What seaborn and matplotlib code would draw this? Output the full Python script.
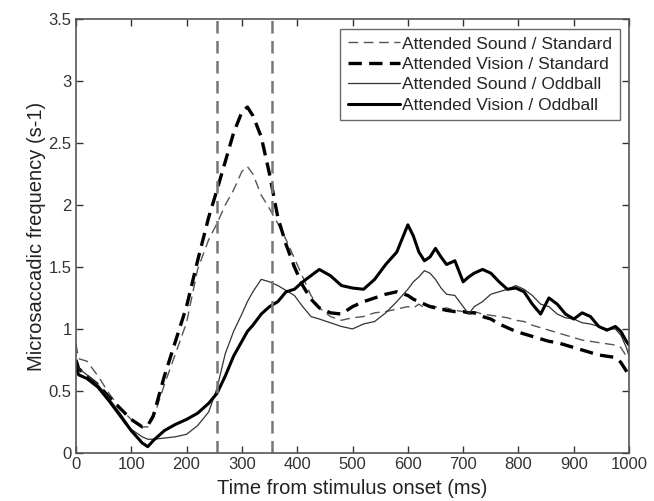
import numpy as np
import pandas as pd
import seaborn as sns
import matplotlib
matplotlib.use("Agg")
import matplotlib.pyplot as plt

# time from stimulus onset (ms)
time_ms = [0, 5, 20, 40, 60, 80, 100, 120, 130, 140,
           160, 180, 200, 220, 240, 255, 270, 285, 300, 310,
           320, 335, 350, 365, 380, 395, 410, 425, 440, 460,
           480, 500, 520, 540, 560, 580, 600, 610, 620, 630,
           640, 650, 660, 670, 685, 700, 710, 720, 735, 750,
           765, 780, 795, 810, 825, 840, 855, 870, 885, 900,
           915, 930, 945, 960, 975, 985, 995, 1000]

sound_standard = [0.88, 0.76, 0.74, 0.62, 0.48, 0.36, 0.27, 0.21, 0.21, 0.28,
                  0.55, 0.80, 1.05, 1.48, 1.72, 1.85, 2.00, 2.12, 2.27, 2.31,
                  2.25, 2.08, 1.97, 1.85, 1.72, 1.57, 1.42, 1.27, 1.17, 1.10,
                  1.07, 1.09, 1.10, 1.13, 1.14, 1.16, 1.18, 1.17, 1.20, 1.17,
                  1.19, 1.18, 1.16, 1.17, 1.15, 1.14, 1.13, 1.14, 1.12, 1.11,
                  1.10, 1.09, 1.07, 1.06, 1.03, 1.01, 0.99, 0.97, 0.95, 0.93,
                  0.91, 0.90, 0.89, 0.88, 0.87, 0.85, 0.78, 0.74]

vision_standard = [0.75, 0.68, 0.62, 0.55, 0.45, 0.36, 0.27, 0.21, 0.22, 0.30,
                   0.62, 0.90, 1.18, 1.55, 1.90, 2.12, 2.35, 2.58, 2.75, 2.79,
                   2.72, 2.55, 2.25, 1.90, 1.68, 1.50, 1.35, 1.24, 1.17, 1.13,
                   1.12, 1.18, 1.22, 1.25, 1.28, 1.30, 1.27, 1.24, 1.22, 1.20,
                   1.18, 1.17, 1.16, 1.15, 1.14, 1.14, 1.13, 1.13, 1.10, 1.08,
                   1.04, 1.01, 0.98, 0.96, 0.94, 0.92, 0.90, 0.89, 0.87, 0.85,
                   0.83, 0.81, 0.79, 0.78, 0.77, 0.73, 0.66, 0.62]

sound_oddball = [0.72, 0.68, 0.63, 0.55, 0.44, 0.32, 0.19, 0.13, 0.11, 0.11,
                 0.12, 0.13, 0.15, 0.22, 0.33, 0.52, 0.80, 0.98, 1.12, 1.22,
                 1.30, 1.40, 1.38, 1.35, 1.31, 1.27, 1.18, 1.10, 1.08, 1.05,
                 1.02, 1.00, 1.04, 1.06, 1.13, 1.22, 1.32, 1.38, 1.42, 1.47,
                 1.45, 1.40, 1.33, 1.28, 1.27, 1.18, 1.12, 1.18, 1.22, 1.28,
                 1.30, 1.32, 1.35, 1.32, 1.27, 1.20, 1.18, 1.12, 1.09, 1.08,
                 1.05, 1.04, 1.02, 1.00, 1.00, 0.95, 0.85, 0.78]

vision_oddball = [0.70, 0.63, 0.60, 0.53, 0.42, 0.30, 0.18, 0.08, 0.05, 0.10,
                  0.18, 0.23, 0.27, 0.32, 0.40, 0.48, 0.62, 0.78, 0.90, 0.98,
                  1.03, 1.12, 1.18, 1.22, 1.30, 1.32, 1.38, 1.43, 1.48, 1.43,
                  1.35, 1.33, 1.32, 1.40, 1.52, 1.62, 1.84, 1.75, 1.62, 1.55,
                  1.58, 1.65, 1.58, 1.52, 1.55, 1.38, 1.42, 1.45, 1.48, 1.45,
                  1.38, 1.32, 1.33, 1.30, 1.20, 1.12, 1.25, 1.20, 1.12, 1.08,
                  1.13, 1.10, 1.02, 0.99, 1.02, 0.98, 0.90, 0.87]

window_ms = [255, 355]

labels = ["Attended Sound / Standard", "Attended Vision / Standard",
          "Attended Sound / Oddball", "Attended Vision / Oddball"]

sns.set_style("ticks")
plt.rcParams["font.family"] = ["Liberation Sans", "DejaVu Sans"]

fig = plt.figure(figsize=(6.54, 5.01), dpi=100)
ax = fig.add_axes([0.116, 0.096, 0.846, 0.866])

# (color, linewidth, dash pattern)
styles = [
    ("#555555", 1.0, (0, (7, 4))),
    ("black", 2.4, (0, (4, 2.2))),
    ("#333333", 0.9, "-"),
    ("black", 2.2, "-"),
]
series = [sound_standard, vision_standard, sound_oddball, vision_oddball]

for vals, lab, (col, lw, ls) in zip(series, labels, styles):
    sns.lineplot(x=time_ms, y=vals, ax=ax, color=col, linewidth=lw,
                 linestyle=ls, label=lab)

for w in window_ms:
    ax.axvline(w, color="#777777", linewidth=1.8, linestyle=(0, (5, 3)))

ax.set_xlim(0, 1000)
ax.set_ylim(0, 3.5)
ax.set_xticks(np.arange(0, 1001, 100))
ax.set_yticks(np.arange(0, 3.51, 0.5))
ax.set_yticklabels(["0", "0.5", "1", "1.5", "2", "2.5", "3", "3.5"])
ax.tick_params(direction="in", length=5, top=True, right=True,
               labelsize=12, colors="#333333", width=1.0, pad=3)
for sp in ax.spines.values():
    sp.set_visible(True)
    sp.set_color("#555555")
    sp.set_linewidth(1.2)

ax.set_xlabel("Time from stimulus onset (ms)", fontsize=14.5, color="#222222",
              labelpad=5)
ax.set_ylabel("Microsaccadic frequency (s-1)", fontsize=14.5, color="#222222",
              labelpad=2)

leg = ax.legend(loc="upper right", fontsize=12.5, frameon=True, fancybox=False,
                handlelength=3.0, handletextpad=0.1, borderpad=0.45,
                labelspacing=0.3, borderaxespad=0.55)
leg.get_frame().set_edgecolor("#444444")
leg.get_frame().set_linewidth(1.0)

fig.savefig("out.png", dpi=100)
